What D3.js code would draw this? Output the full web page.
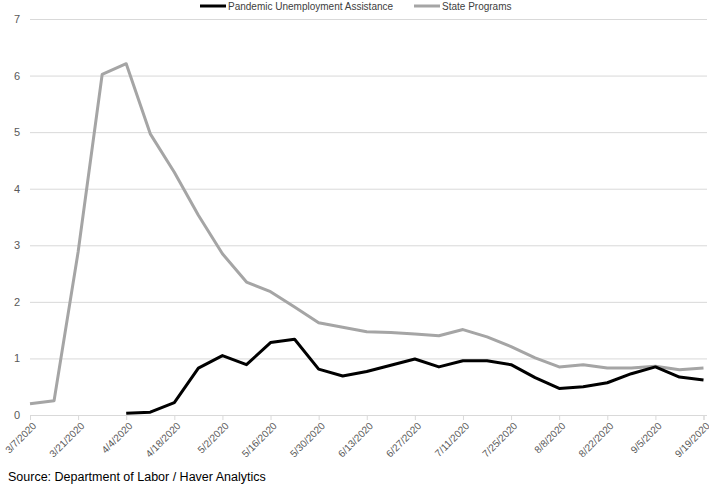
<!DOCTYPE html>
<html>
<head>
<meta charset="utf-8">
<script src="https://cdn.jsdelivr.net/npm/d3@7"></script>
<style>
  body { margin: 0; background: #fff; }
  text { font-family: "Liberation Sans", Arial, sans-serif; }
</style>
</head>
<body>
<svg width="709" height="485"></svg>
<script>
// weekly dates, 3/7/2020 .. 9/19/2020
const dates = ['3/7/2020','3/14/2020','3/21/2020','3/28/2020','4/4/2020','4/11/2020','4/18/2020','4/25/2020',
  '5/2/2020','5/9/2020','5/16/2020','5/23/2020','5/30/2020','6/6/2020','6/13/2020','6/20/2020','6/27/2020',
  '7/4/2020','7/11/2020','7/18/2020','7/25/2020','8/1/2020','8/8/2020','8/15/2020','8/22/2020','8/29/2020',
  '9/5/2020','9/12/2020','9/19/2020'];

const stateValues = [0.2, 0.25, 2.88, 6.02, 6.21, 4.97, 4.29, 3.53, 2.85, 2.35, 2.18, 1.91, 1.63, 1.55, 1.47,
  1.46, 1.43, 1.4, 1.51, 1.38, 1.21, 1.01, 0.85, 0.89, 0.83, 0.83, 0.86, 0.8, 0.83];

// PUA starts on 4/4
const puaValues = [null, null, null, null, 0.03, 0.05, 0.22, 0.83, 1.05, 0.89, 1.28, 1.34, 0.81, 0.69, 0.77,
  0.88, 0.99, 0.85, 0.96, 0.96, 0.89, 0.66, 0.47, 0.5, 0.57, 0.73, 0.85, 0.67, 0.62];

const yTicks = [0, 1, 2, 3, 4, 5, 6, 7];
const tickDates = dates.filter((d, i) => i % 2 === 0);

const seriesNames = ['Pandemic Unemployment Assistance', 'State Programs'];
const seriesColors = ['#000000', '#a5a5a5'];

const svg = d3.select('svg');
const margin = { left: 30, right: 5, top: 19, bottom: 70 };
const width = Number(svg.attr('width')), height = Number(svg.attr('height'));
const innerWidth = width - margin.left - margin.right;
const innerHeight = height - margin.top - margin.bottom;

const xScale = d3.scalePoint().domain(dates).range([0, innerWidth - 0.5]);
const yScale = d3.scaleLinear().domain([0, 7]).range([innerHeight, 0]);

const g = svg.append('g').attr('transform', `translate(${margin.left},${margin.top})`);

// gridlines + y labels
const yAxis = g.append('g')
  .call(d3.axisLeft(yScale).tickValues(yTicks).tickSize(-innerWidth - 3).tickFormat(d3.format('d')).tickPadding(10));
yAxis.select('.domain').remove();
yAxis.selectAll('.tick line').attr('stroke', '#d9d9d9').attr('stroke-width', 1);
yAxis.selectAll('.tick text').attr('fill', '#595959').style('font-size', '11px');

// x axis
const xAxis = g.append('g')
  .attr('transform', `translate(0,${innerHeight})`)
  .call(d3.axisBottom(xScale).tickValues(tickDates).tickSize(5));
xAxis.select('.domain').attr('stroke', '#d9d9d9');
xAxis.selectAll('.tick line').attr('stroke', '#d9d9d9');
xAxis.selectAll('.tick text')
  .attr('fill', '#595959')
  .style('font-size', '10px')
  .attr('text-anchor', 'end')
  .attr('x', 0).attr('y', 0)
  .attr('dy', '0.35em')
  .attr('transform', 'translate(4,9) rotate(-45)');

// lines
const line = vals => d3.line()
  .defined(d => d != null)
  .x((d, i) => xScale(dates[i]))
  .y(d => yScale(d))(vals);

g.append('path')
  .attr('d', line(stateValues))
  .attr('fill', 'none')
  .attr('stroke', seriesColors[1])
  .attr('stroke-width', 3)
  .attr('stroke-linejoin', 'round');

g.append('path')
  .attr('d', line(puaValues))
  .attr('fill', 'none')
  .attr('stroke', seriesColors[0])
  .attr('stroke-width', 3)
  .attr('stroke-linejoin', 'round');

// legend
const legendX = [200, 414];
const legend = svg.append('g');
seriesNames.forEach((name, i) => {
  legend.append('line')
    .attr('x1', legendX[i]).attr('x2', legendX[i] + 26)
    .attr('y1', 6).attr('y2', 6)
    .attr('stroke', seriesColors[i]).attr('stroke-width', 3);
  legend.append('text')
    .attr('x', legendX[i] + 28).attr('y', 9.5)
    .attr('fill', '#404040')
    .style('font-size', '10px')
    .text(name);
});

// source note
svg.append('text')
  .attr('x', 8).attr('y', 481)
  .attr('fill', '#000')
  .style('font-size', '12.5px')
  .text('Source: Department of Labor / Haver Analytics');
</script>
</body>
</html>
